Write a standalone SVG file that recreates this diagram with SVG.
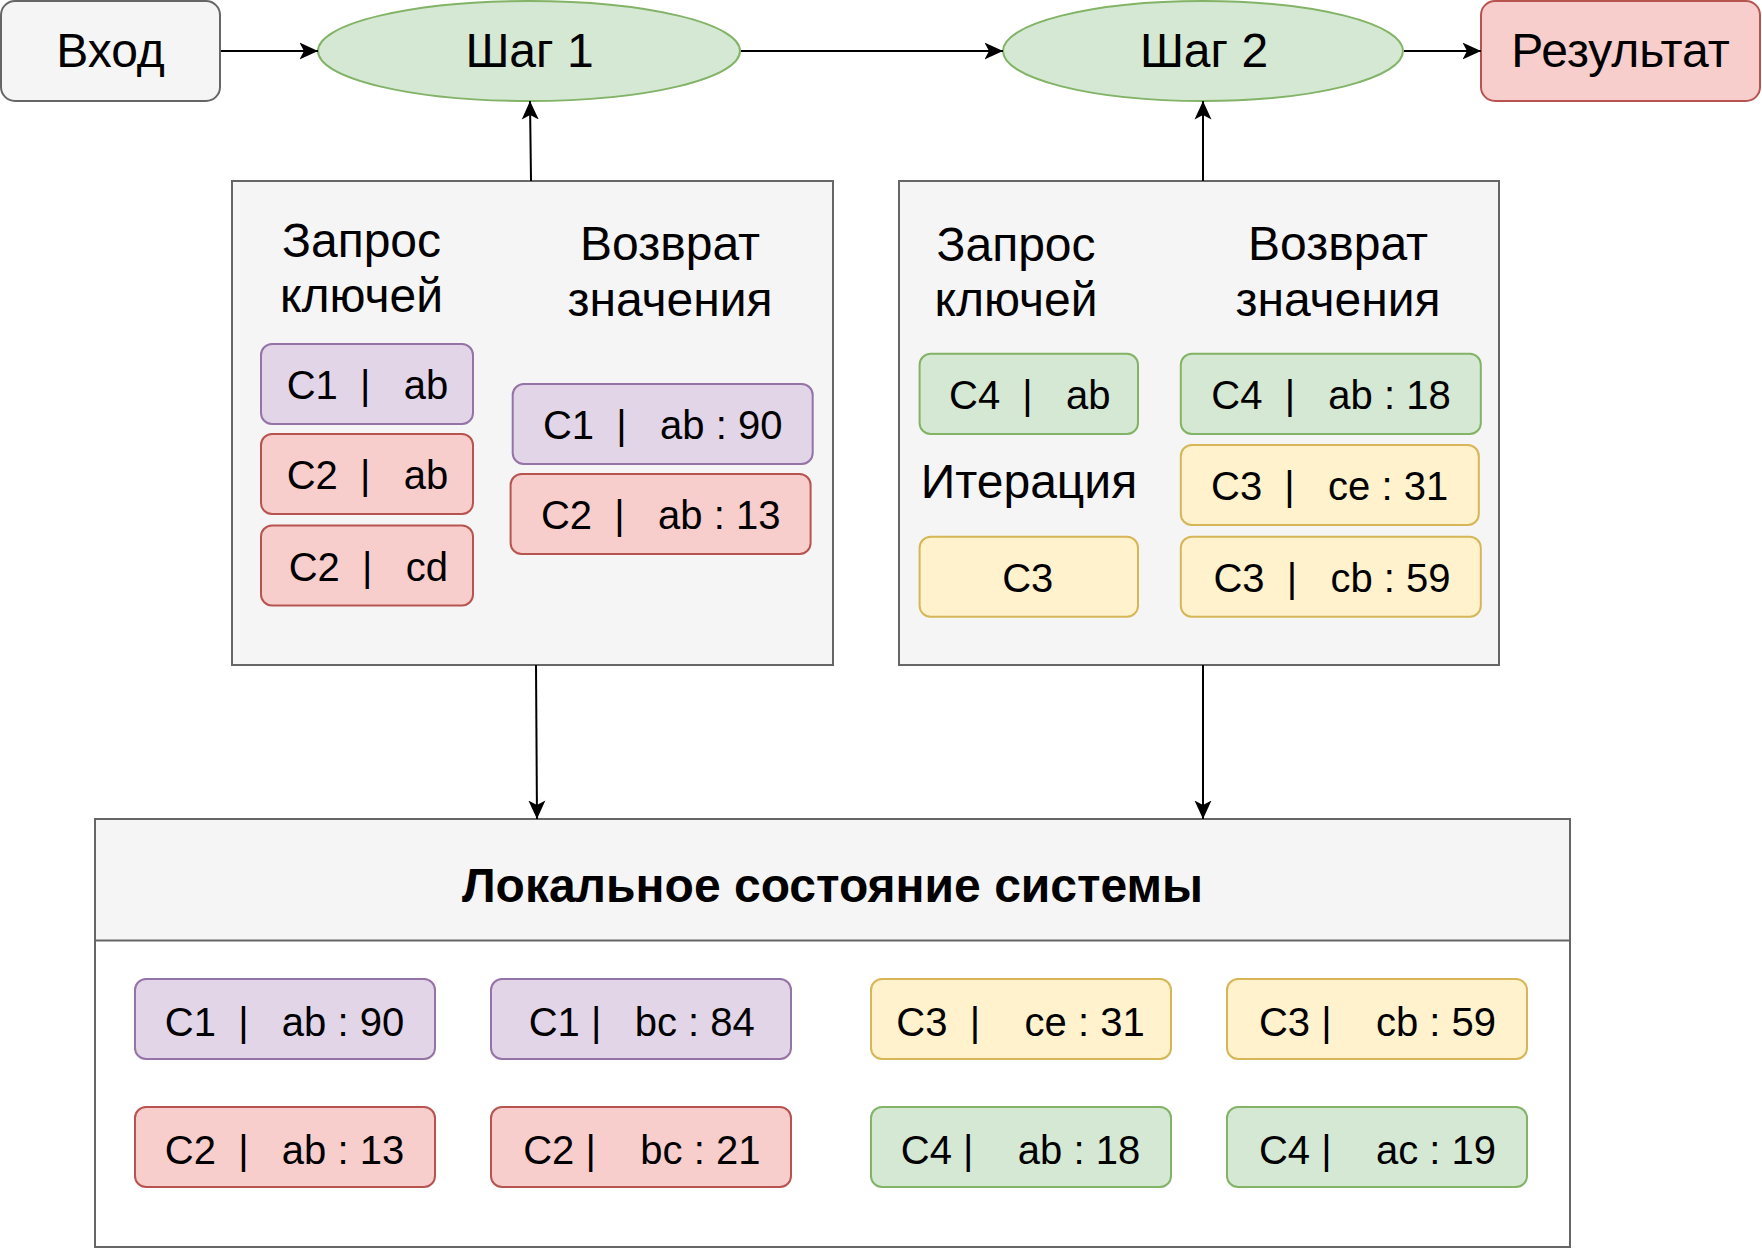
<svg xmlns="http://www.w3.org/2000/svg" width="1762" height="1248" viewBox="0 0 1762 1248">
<defs>
<style>
text{font-family:"Liberation Sans",Arial,sans-serif;fill:#000;text-anchor:middle;white-space:pre}
.big{font-size:48px}
.sm{font-size:40px}
.bold{font-weight:bold}
.gray{fill:#f5f5f5;stroke:#666666;stroke-width:2}
.white{fill:#ffffff;stroke:#666666;stroke-width:2}
.green{fill:#d5e8d4;stroke:#82b366;stroke-width:2}
.red{fill:#f8cecc;stroke:#b85450;stroke-width:2}
.purple{fill:#e1d5e7;stroke:#9673a6;stroke-width:2}
.yellow{fill:#fff2cc;stroke:#d6b656;stroke-width:2}
.edge{fill:none;stroke:#000;stroke-width:2;marker-end:url(#arr)}
</style>
<marker id="arr" markerUnits="userSpaceOnUse" markerWidth="19" markerHeight="18" viewBox="0 0 19 18" refX="18.5" refY="9" orient="auto">
<path d="M0,0.5 L18.5,9 L0,17.5 L4.5,9 Z" fill="#000"/>
</marker>
</defs>

<g id="input">
<rect class="gray" x="1" y="1" width="219" height="100" rx="14"/>
<text class="big" x="110.5" y="67">Вход</text>
</g>
<g id="step1">
<ellipse class="green" cx="529" cy="51" rx="211" ry="50"/>
<text class="big" x="529.5" y="67">Шаг 1</text>
</g>
<g id="step2">
<ellipse class="green" cx="1203" cy="51" rx="200" ry="50"/>
<text class="big" x="1204" y="67">Шаг 2</text>
</g>
<g id="result">
<rect class="red" x="1481" y="1" width="279" height="100" rx="14"/>
<text class="big" x="1620.5" y="67">Результат</text>
</g>

<g id="panel1">
<rect class="gray" x="232" y="181" width="601" height="484"/>
<text class="big" x="361.5" y="257">Запрос</text>
<text class="big" x="361.5" y="312">ключей</text>
<text class="big" x="670" y="260">Возврат</text>
<text class="big" x="670" y="315.5">значения</text>
</g>
<g id="p1-c1-ab">
<rect class="purple" x="261" y="344" width="212" height="80" rx="11"/>
<text class="sm" x="367.5" y="399" xml:space="preserve">C1  |   ab</text>
</g>
<g id="p1-c2-ab">
<rect class="red" x="261" y="434" width="212" height="80" rx="11"/>
<text class="sm" x="367.5" y="489" xml:space="preserve">C2  |   ab</text>
</g>
<g id="p1-c2-cd">
<rect class="red" x="261" y="525.5" width="212" height="80" rx="11"/>
<text class="sm" x="368.4" y="580.5" xml:space="preserve">C2  |   cd</text>
</g>
<g id="p1-c1-ab90">
<rect class="purple" x="512.7" y="384" width="300" height="80" rx="11"/>
<text class="sm" x="662.7" y="439" xml:space="preserve">C1  |   ab : 90</text>
</g>
<g id="p1-c2-ab13">
<rect class="red" x="510.6" y="474" width="300" height="80" rx="11"/>
<text class="sm" x="660.7" y="529" xml:space="preserve">C2  |   ab : 13</text>
</g>

<g id="panel2">
<rect class="gray" x="899" y="181" width="600" height="484"/>
<text class="big" x="1016" y="261">Запрос</text>
<text class="big" x="1016" y="316">ключей</text>
<text class="big" x="1338" y="260">Возврат</text>
<text class="big" x="1338" y="316">значения</text>
<text class="big" x="1029" y="498">Итерация</text>
</g>
<g id="p2-c4-ab">
<rect class="green" x="919.6" y="353.7" width="218.4" height="80.3" rx="11"/>
<text class="sm" x="1029.8" y="409" xml:space="preserve">C4  |   ab</text>
</g>
<g id="p2-c3">
<rect class="yellow" x="919.6" y="536.7" width="218.4" height="80" rx="11"/>
<text class="sm" x="1027.8" y="592">C3</text>
</g>
<g id="p2-c4-ab18">
<rect class="green" x="1180.8" y="353.7" width="300" height="80.3" rx="11"/>
<text class="sm" x="1331" y="409" xml:space="preserve">C4  |   ab : 18</text>
</g>
<g id="p2-c3-ce31">
<rect class="yellow" x="1180.8" y="445" width="298" height="80" rx="11"/>
<text class="sm" x="1329.6" y="500" xml:space="preserve">C3  |   ce : 31</text>
</g>
<g id="p2-c3-cb59">
<rect class="yellow" x="1180.8" y="536.7" width="300" height="80" rx="11"/>
<text class="sm" x="1332" y="592" xml:space="preserve">C3  |   cb : 59</text>
</g>

<g id="local-state">
<rect class="white" x="95" y="819" width="1475" height="428"/>
<rect class="gray" x="95" y="819" width="1475" height="121.5"/>
<text class="big bold" x="832.5" y="902">Локальное состояние системы</text>
</g>
<g id="s-c1-ab90">
<rect class="purple" x="135" y="979" width="300" height="80" rx="11"/>
<text class="sm" x="284.5" y="1035.5" xml:space="preserve">C1  |   ab : 90</text>
</g>
<g id="s-c1-bc84">
<rect class="purple" x="491" y="979" width="300" height="80" rx="11"/>
<text class="sm" x="641.7" y="1035.5" xml:space="preserve">C1 |   bc : 84</text>
</g>
<g id="s-c3-ce31">
<rect class="yellow" x="871" y="979" width="300" height="80" rx="11"/>
<text class="sm" x="1020.5" y="1035.5" xml:space="preserve">C3  |    ce : 31</text>
</g>
<g id="s-c3-cb59">
<rect class="yellow" x="1227" y="979" width="300" height="80" rx="11"/>
<text class="sm" x="1377.5" y="1035.5" xml:space="preserve">C3 |    cb : 59</text>
</g>
<g id="s-c2-ab13">
<rect class="red" x="135" y="1107" width="300" height="80" rx="11"/>
<text class="sm" x="284.5" y="1163.5" xml:space="preserve">C2  |   ab : 13</text>
</g>
<g id="s-c2-bc21">
<rect class="red" x="491" y="1107" width="300" height="80" rx="11"/>
<text class="sm" x="641.8" y="1163.5" xml:space="preserve">C2 |    bc : 21</text>
</g>
<g id="s-c4-ab18">
<rect class="green" x="871" y="1107" width="300" height="80" rx="11"/>
<text class="sm" x="1020.5" y="1163.5" xml:space="preserve">C4 |    ab : 18</text>
</g>
<g id="s-c4-ac19">
<rect class="green" x="1227" y="1107" width="300" height="80" rx="11"/>
<text class="sm" x="1377.5" y="1163.5" xml:space="preserve">C4 |    ac : 19</text>
</g>

<g id="connectors">
<path class="edge" d="M221,51 L318,51"/>
<path class="edge" d="M741,51 L1003,51"/>
<path class="edge" d="M1404,51 L1481,51"/>
<path class="edge" d="M531,181 L530,101"/>
<path class="edge" d="M1203,181 L1203,101"/>
<path class="edge" d="M536,665 L537,819"/>
<path class="edge" d="M1203,665 L1203,819"/>
</g>
</svg>
